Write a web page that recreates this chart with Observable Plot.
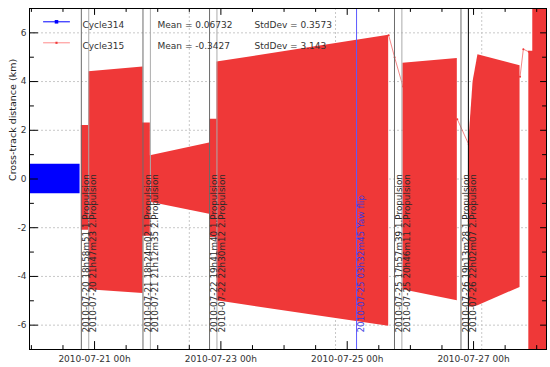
<!DOCTYPE html>
<html><head><meta charset="utf-8">
<script src="https://cdn.jsdelivr.net/npm/d3@7"></script>
<script src="https://cdn.jsdelivr.net/npm/@observablehq/plot@0.6"></script>
<style>html,body{margin:0;padding:0;background:#fff;overflow:hidden}svg{display:block}</style>
</head><body><div id="chart"></div>
<script>
// ---- legend / statistics ----
const seriesNames = ["Cycle314", "Cycle315"];
const seriesMeans = ["0.06732", "-0.3427"];
const seriesStdDevs = ["0.3573", "3.143"];

// ---- Cycle314 envelope (km) ----
const c314Times = ["2010-07-19T23:17Z", "2010-07-20T18:30Z"];
const c314Low = [-0.61, -0.61];
const c314High = [0.61, 0.61];

// ---- Cycle315 envelope (km), by segment ----
const c315Seg = [1,1,1,1,1,1,1,1,1,1,1,1, 2,2, 3,3,3,3, 4,4,4,4];
const c315Times = [
  "2010-07-20T18:59Z","2010-07-20T21:47Z","2010-07-20T21:47Z","2010-07-21T18:24Z",
  "2010-07-21T18:24Z","2010-07-21T21:12Z","2010-07-21T21:12Z","2010-07-22T19:41Z",
  "2010-07-22T19:41Z","2010-07-22T22:30Z","2010-07-22T22:30Z","2010-07-25T15:45Z",
  "2010-07-25T21:10Z","2010-07-26T17:50Z",
  "2010-07-26T22:10Z","2010-07-26T23:50Z","2010-07-27T01:40Z","2010-07-27T17:40Z",
  "2010-07-27T21:00Z","2010-07-27T22:30Z","2010-07-27T22:30Z","2010-07-28T03:43Z"
];
const c315Low = [-2.1,-2.1,-4.55,-4.7, -2.35,-2.35,-0.95,-1.45, -2.4,-2.4,-5.0,-6.05,
  -4.55,-5.0, -5.25,-5.25,-5.2,-4.45, -7.5,-7.5,-7.5,-7.5];
const c315High = [2.2,2.2,4.4,4.6, 2.3,2.3,0.95,1.48, 2.45,2.45,4.8,5.9,
  4.75,4.95, 1.45,4.0,5.1,4.65, 5.25,5.25,7.5,7.5];

// ---- Cycle315 data gaps (thin connecting line) ----
const gapSeg = [1,1,1, 2,2, 3,3,3];
const gapTimes = ["2010-07-25T15:45Z","2010-07-25T18:00Z","2010-07-25T21:10Z",
  "2010-07-26T17:50Z","2010-07-26T22:10Z",
  "2010-07-27T17:40Z","2010-07-27T18:55Z","2010-07-27T21:00Z"];
const gapValues = [5.9, 5.0, 3.8, 2.45, 1.42, 4.2, 5.33, 5.22];

// ---- events ----
const eventTimes = ["2010-07-20T18:58:51Z","2010-07-20T21:47:23Z","2010-07-21T18:24:02Z",
  "2010-07-21T21:12:35Z","2010-07-22T19:41:40Z","2010-07-22T22:30:12Z","2010-07-25T03:32:45Z",
  "2010-07-25T17:57:39Z","2010-07-25T20:46:11Z","2010-07-26T19:13:28Z","2010-07-26T22:02:07Z"];
const eventNames = ["1.Propulsion","2.Propulsion","1.Propulsion","2.Propulsion","1.Propulsion",
  "2.Propulsion","Yaw flip","1.Propulsion","2.Propulsion","1.Propulsion","2.Propulsion"];

// ---- ticks ----
const xMajorTicks = ["2010-07-21T00:00Z","2010-07-23T00:00Z","2010-07-25T00:00Z","2010-07-27T00:00Z"];
const xMinorTicks = ["2010-07-20T00:00Z","2010-07-20T12:00Z","2010-07-21T12:00Z","2010-07-22T00:00Z",
  "2010-07-22T12:00Z","2010-07-23T12:00Z","2010-07-24T00:00Z","2010-07-24T12:00Z","2010-07-25T12:00Z",
  "2010-07-26T00:00Z","2010-07-26T12:00Z","2010-07-27T12:00Z","2010-07-28T00:00Z"];
const xGridTimes = ["2010-07-22T12:00:00Z","2010-07-24T19:33:20Z","2010-07-27T03:06:40Z"];
const yMajorTicks = [-6,-4,-2,0,2,4,6];
const yMinorTicks = [-5,-3,-1,1,3,5];
const xDomain = ["2010-07-19T23:17Z","2010-07-28T03:43Z"];
const yDomain = [-7, 7];
const yLabel = "Cross-track distance (km)";

// ---- tables ----
const D = s => new Date(s);
const c314 = c314Times.map((t,i) => ({t: D(t), lo: c314Low[i], hi: c314High[i]}));
const c315 = c315Times.map((t,i) => ({t: D(t), lo: c315Low[i], hi: c315High[i], seg: c315Seg[i]}));
const gaps = gapTimes.map((t,i) => ({t: D(t), v: gapValues[i], seg: gapSeg[i]}));
const fmt = d3.utcFormat("%Y-%m-%d %Hh%Mm%S");
const events = eventTimes.map((t,i) => ({t: D(t), name: eventNames[i], label: fmt(D(t)) + " " + eventNames[i], i}));

const RED = "#ef3838";
const eventStroke = d => d.name === "Yaw flip" ? "#5b5bff" : d.i === events.length - 1 ? "#000000" : d.name.startsWith("1.") ? "#6c6c6c" : "#ababab";
const eventText = d => d.name === "Yaw flip" ? "#3a3ae0" : "#2a2a2a";

const tickShape = {draw(ctx, l) { ctx.moveTo(0, 0); ctx.lineTo(0, -l); }};
const ticks = (data, ch, anchor, rotate, length) =>
  Plot.vector(data, {[ch]: d => d, frameAnchor: anchor, rotate, length, shape: tickShape, anchor: "start", stroke: "#000", strokeWidth: 1});

const legendMarks = [];
seriesNames.forEach((name, i) => {
  const dy = 13.3 + 21 * i;
  legendMarks.push(
    Plot.vector([name], {frameAnchor: "top-left", dx: 14, dy, rotate: 90, length: 26, shape: tickShape, anchor: "start",
      stroke: i === 0 ? "#0000ff" : "#ff8a8a", strokeWidth: 1}),
    Plot.dot([name], {frameAnchor: "top-left", dx: 27, dy, symbol: "square", r: i === 0 ? 2 : 1.2, fill: i === 0 ? "#0000ff" : RED, stroke: null}),
    Plot.text([name], {frameAnchor: "top-left", dx: 53, dy, text: d => d, textAnchor: "start", fill: "#333"}),
    Plot.text([seriesMeans[i]], {frameAnchor: "top-left", dx: 128, dy, text: d => "Mean = " + d, textAnchor: "start", fill: "#333"}),
    Plot.text([seriesStdDevs[i]], {frameAnchor: "top-left", dx: 225, dy, text: d => "StdDev = " + d, textAnchor: "start", fill: "#333"})
  );
});

const chart = Plot.plot({
  width: 550, height: 367,
  marginLeft: 29, marginRight: 4, marginTop: 8, marginBottom: 18,
  style: {fontFamily: "DejaVu Sans", fontSize: "9px", background: "#fff", color: "#222"},
  x: {type: "utc", domain: xDomain.map(D)},
  y: {domain: yDomain},
  marks: [
    Plot.ruleY(yMajorTicks, {y: d => d, stroke: "#c8c8c8", strokeDasharray: "2,2"}),
    Plot.ruleX(xGridTimes.map(D), {x: d => d, stroke: "#c8c8c8", strokeDasharray: "2,2"}),
    Plot.areaY(c314, {x: "t", y1: "lo", y2: "hi", fill: "#0000ff", clip: true}),
    Plot.areaY(c315, {x: "t", y1: "lo", y2: "hi", z: "seg", fill: RED, clip: true}),
    Plot.line(gaps, {x: "t", y: "v", z: "seg", stroke: RED, strokeOpacity: 0.6, strokeWidth: 1, clip: true}),
    Plot.dot(gaps, {x: "t", y: "v", r: 1, fill: RED, stroke: null, clip: true}),
    Plot.ruleX(events, {x: "t", stroke: eventStroke, strokeWidth: 1}),
    Plot.text(events, {x: "t", frameAnchor: "bottom", text: "label", rotate: -90, textAnchor: "start", lineAnchor: "top",
      dx: 1.5, dy: -17, fill: eventText, fontSize: 8.8}),
    ...legendMarks,
    Plot.frame({stroke: "#000"}),
    ticks(xMajorTicks.map(D), "x", "bottom", 0, 8),
    ticks(xMinorTicks.map(D), "x", "bottom", 0, 4),
    ticks(xMajorTicks.map(D), "x", "top", 180, 6),
    ticks(xMinorTicks.map(D), "x", "top", 180, 3),
    ticks(yMajorTicks, "y", "left", 90, 8),
    ticks(yMinorTicks, "y", "left", 90, 4),
    ticks(yMajorTicks, "y", "right", -90, 6),
    ticks(yMinorTicks, "y", "right", -90, 4),
    Plot.axisX(xMajorTicks.map(D), {anchor: "bottom", tickSize: 0, tickPadding: 6, label: null,
      tickFormat: d3.utcFormat("%Y-%m-%d %Hh"), fill: "#333"}),
    Plot.axisY(yMajorTicks, {anchor: "left", tickSize: 0, tickPadding: 3, label: null,
      tickFormat: d => String(d), fill: "#333"}),
    Plot.text([yLabel], {frameAnchor: "left", dx: -17, dy: 2, rotate: -90, text: d => d, fontSize: 9.5, fill: "#222"})
  ]
});
document.getElementById("chart").appendChild(chart);
</script>
</body></html>
